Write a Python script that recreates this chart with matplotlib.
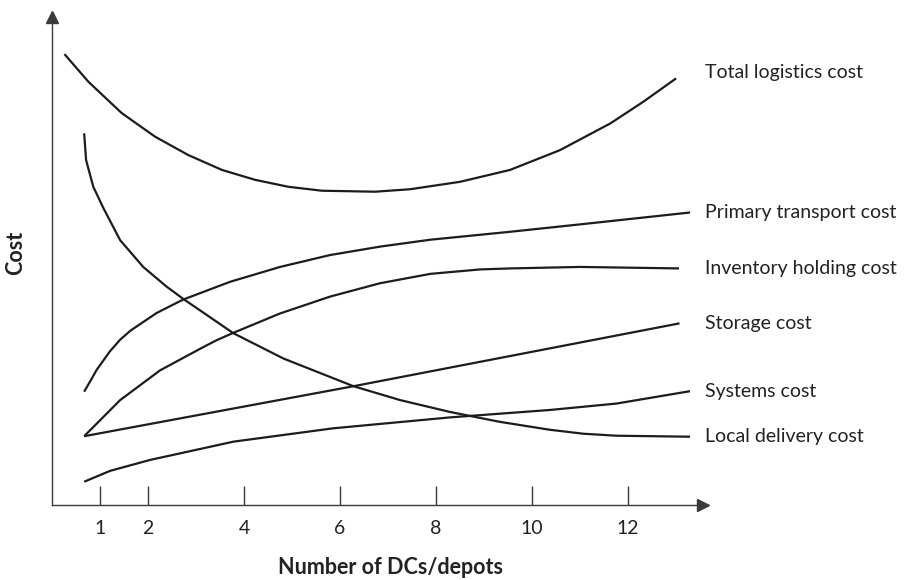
#!/usr/bin/env python3
"""
Logistics cost trade-off vs number of DCs/depots.
"""

import matplotlib
matplotlib.use("Agg")
import matplotlib.pyplot as plt

plt.rcParams["font.family"] = ["Lato", "DejaVu Sans"]

# Data (x = number of DCs, y = relative cost)
total_x = [0.26, 0.76, 1.45, 2.15, 2.84, 3.54, 4.23, 4.92, 5.62, 6.73, 7.46, 8.5,
           9.54, 10.58, 11.63, 12.32, 13.0]
total_y = [91.1, 85.5, 79.2, 74.4, 70.7, 67.7, 65.7, 64.3, 63.5, 63.3, 63.8, 65.3,
           67.7, 71.7, 77.1, 81.5, 86.2]

primary_x = [0.67, 0.79, 0.93, 1.21, 1.42, 1.63, 2.18, 2.73, 3.71, 4.75, 5.79, 6.83,
             7.88, 9.54, 11.0, 13.29]
primary_y = [22.9, 24.9, 27.3, 31.1, 33.4, 35.2, 38.8, 41.5, 45.1, 48.1, 50.5, 52.2,
             53.6, 55.2, 56.7, 59.1]

inventory_x = [0.67, 1.42, 2.25, 3.15, 3.43, 3.78, 4.75, 5.79, 6.83, 7.88, 8.92, 9.54,
               11.0, 13.06]
inventory_y = [13.9, 21.2, 27.2, 31.9, 33.3, 34.8, 38.7, 42.1, 44.8, 46.7, 47.6, 47.8,
               48.1, 47.8]

storage_x = [0.67, 6.28, 13.07]
storage_y = [13.9, 24.0, 36.7]

systems_x = [0.67, 1.21, 2.04, 3.78, 5.86, 8.29, 10.37, 11.76, 13.29]
systems_y = [4.7, 6.9, 9.1, 12.8, 15.5, 17.7, 19.2, 20.5, 23.0]

local_x = [0.67, 0.71, 0.86, 1.07, 1.42, 1.90, 2.39, 2.74, 3.78, 4.82, 6.28, 7.25,
           8.29, 9.33, 10.37, 11.07, 11.76, 13.29]
local_y = [75.1, 69.7, 64.3, 60.0, 53.5, 48.1, 44.1, 41.6, 34.7, 29.6, 24.0, 21.2,
           18.8, 16.8, 15.2, 14.4, 14.0, 13.8]

series = [
    ("Total logistics cost", total_x, total_y),
    ("Primary transport cost", primary_x, primary_y),
    ("Inventory holding cost", inventory_x, inventory_y),
    ("Storage cost", storage_x, storage_y),
    ("Systems cost", systems_x, systems_y),
    ("Local delivery cost", local_x, local_y),
]

x_ticks = [1, 2, 4, 6, 8, 10, 12]
x_tick_labels = ["1", "2", "4", "6", "8", "10", "12"]

LABEL_X = 13.6
AXIS_COLOR = "#3a3a3a"
LINE_COLOR = "#1c1c1c"
TEXT_COLOR = "#222222"


def main():
    fig = plt.figure(figsize=(9.09, 5.8), dpi=100)
    ax = fig.add_axes([0.0572, 0.1293, 0.7162, 0.8414])
    ax.set_xlim(0, 13.56)
    ax.set_ylim(0, 98.6)

    for name, xs, ys in series:
        ax.plot(xs, ys, color=LINE_COLOR, lw=1.6, solid_capstyle="butt",
                solid_joinstyle="round")
        # total label sits a little above its curve end
        dy = 4 if name.startswith("Total") else 0
        ax.annotate(name, xy=(LABEL_X, ys[-1]), xytext=(0, dy),
                    textcoords="offset points", fontsize=14, color=TEXT_COLOR,
                    va="center", ha="left", annotation_clip=False)

    # axes with arrow heads
    for side in ["top", "right"]:
        ax.spines[side].set_visible(False)
    for side in ["left", "bottom"]:
        ax.spines[side].set_color(AXIS_COLOR)
        ax.spines[side].set_linewidth(1.0)
    ax.plot(1, 0, ">", color=AXIS_COLOR, ms=8, transform=ax.get_yaxis_transform(),
            clip_on=False)
    ax.plot(0, 1, "^", color=AXIS_COLOR, ms=8, transform=ax.get_xaxis_transform(),
            clip_on=False)

    ax.set_xticks(x_ticks)
    ax.set_xticklabels(x_tick_labels)
    ax.tick_params(axis="x", direction="in", length=14, width=1.0, color=AXIS_COLOR,
                   pad=11, labelsize=14, labelcolor=TEXT_COLOR)
    ax.set_yticks([])

    fig.text(391 / 909, 1 - 568 / 580, "Number of DCs/depots", fontsize=15.5,
             fontweight="bold", ha="center", va="center", color=TEXT_COLOR)
    fig.text(16 / 909, 1 - 253 / 580, "Cost", fontsize=15.5, fontweight="bold",
             rotation=90, ha="center", va="center", color=TEXT_COLOR)

    fig.savefig("out.png", dpi=100)
    plt.close(fig)


if __name__ == "__main__":
    main()
